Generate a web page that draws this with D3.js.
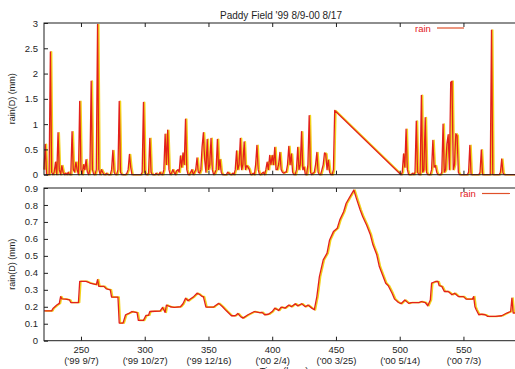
<!DOCTYPE html>
<html>
<head>
<meta charset="utf-8">
<script src="https://cdn.jsdelivr.net/npm/d3@7"></script>
<style>
  html, body { margin: 0; padding: 0; background: #fff; }
  svg { display: block; font-family: "Liberation Sans", Arial, Helvetica, sans-serif; }
</style>
</head>
<body>
<svg id="chart" width="515" height="369"></svg>
<script>
// Daily rainfall, first stretch (day 221 .. 449), mm
const rainStartA = 221;
const rainA = [
  0.1, 0.6, 0, 0, 0, 2.43, 0.05, 0, 0.05, 0.25,
  0, 0.83, 0.1, 0, 0.18, 0.05, 0, 0.03, 0, 0.05,
  0, 0, 0.85, 0.1, 0.05, 0.25, 0.1, 0, 1.45, 0.1,
  0, 0.2, 0.1, 0.3, 0.05, 0, 0.1, 1.85, 0.1, 0,
  0, 0.1, 2.97, 0.1, 0, 0.1, 0.05, 0, 0, 0.03,
  0, 0, 0, 0.1, 0.48, 0.05, 0, 0, 0.1, 1.45,
  0.05, 0, 0, 0, 0, 0.03, 0.1, 0.4, 0.15, 0,
  0, 0, 0, 0, 0, 0, 0, 0.05, 1.43, 0.05,
  0, 0, 0.03, 0.72, 0.05, 0, 0, 0, 0.03, 0,
  0, 0.05, 0, 0, 0.1, 0.8, 0.2, 0.88, 0.1, 0,
  0.03, 0.1, 0.05, 0, 0.08, 0.1, 0.05, 0.37, 0.15, 0.43,
  0.2, 1.1, 0.1, 0, 0, 0.05, 0.1, 0, 0.05, 0.1,
  0.33, 0.05, 0.03, 0.1, 0.55, 0.83, 0.3, 0.05, 0.7, 0.1,
  0.2, 0.72, 0.1, 0, 0.03, 0.1, 0.7, 0.1, 0.3, 0.05,
  0, 0, 0, 0, 0.05, 0.03, 0, 0, 0.03, 0,
  0.1, 0.47, 0.1, 0.2, 0.72, 0.1, 0.2, 0.65, 0.1, 0.18,
  0.15, 0.1, 0, 0, 0.03, 0, 0.2, 0.58, 0.1, 0,
  0, 0.03, 0.05, 0, 0.1, 0.25, 0.1, 0.38, 0.2, 0.38,
  0.2, 0.54, 0.1, 0.1, 0.2, 0.44, 0.1, 0.05, 0.03, 0.05,
  0.05, 0.2, 0.56, 0.2, 0.41, 0.05, 0, 0, 0.1, 0.54,
  0.1, 0.2, 0.85, 0.1, 0.15, 0, 0, 0.2, 1.17, 0.05,
  0, 0.03, 0.05, 0.2, 0.44, 0.05, 0, 0, 0.1, 0.2,
  0.43, 0.41, 0.1, 0.29, 0.05, 0, 0, 0.1, 1.27
];
// Daily rainfall, second stretch (day 501 .. 592), mm
const rainStartB = 501;
const rainB = [
  0, 0.05, 0.41, 0.15, 0.9, 0.1, 0, 0, 0, 0.03,
  0, 0.05, 1.06, 0.05, 0, 0, 1.57, 0.05, 0.1, 1.13,
  0.05, 0, 0, 0, 0.1, 0.68, 0.15, 0.18, 0.05, 0,
  0, 0, 0.05, 1.0, 0.05, 0.1, 0.61, 0.79, 0.1, 1.83,
  1.85, 0.1, 0.2, 0.81, 0.77, 0.05, 0, 0, 0, 0,
  0, 0, 0, 0.05, 0.58, 0, 0, 0, 0, 0,
  0, 0, 0.05, 0.49, 0, 0, 0, 0, 0, 0,
  0, 2.86, 0, 0, 0, 0, 0, 0, 0.05, 0.31,
  0.03, 0, 0, 0, 0, 0, 0, 0, 0, 0,
  0, 0
];

// Smoothed rain(D) series: day and value
const avgDay = [221, 227, 228, 231, 233, 234, 235, 238, 241, 242, 248, 249, 254, 257, 262, 263, 264, 268, 270, 273,
  274, 279, 280, 283, 285, 288, 290, 294, 295, 299, 301, 303, 304, 312, 314, 316, 317, 320, 323, 328,
  330, 332, 334, 336, 338, 341, 343, 345, 346, 348, 354, 355, 358, 361, 364, 368, 371, 373, 375, 377,
  381, 386, 390, 392, 394, 397, 400, 402, 405, 407, 410, 413, 415, 418, 420, 423, 426, 428, 431, 433,
  435, 437, 440, 443, 445, 448, 451, 453, 456, 458, 461, 464, 466, 469, 471, 474, 477, 479, 482, 484,
  487, 489, 491, 494, 496, 499, 501, 504, 507, 509, 515, 517, 520, 522, 524, 525, 528, 530, 531, 533,
  535, 538, 541, 543, 546, 550, 552, 557, 558, 559, 560, 562, 564, 567, 569, 575, 580, 584, 587, 588,
  589, 592];
const avgVal = [0.176, 0.176, 0.19, 0.21, 0.22, 0.26, 0.247, 0.245, 0.24, 0.225, 0.225, 0.35, 0.35, 0.34, 0.33, 0.36, 0.32, 0.32, 0.305, 0.30,
  0.257, 0.257, 0.104, 0.104, 0.153, 0.163, 0.172, 0.165, 0.12, 0.12, 0.149, 0.15, 0.172, 0.175, 0.196, 0.167, 0.21, 0.2, 0.197, 0.2,
  0.218, 0.25, 0.235, 0.247, 0.257, 0.28, 0.272, 0.26, 0.26, 0.198, 0.198, 0.205, 0.22, 0.2, 0.176, 0.147, 0.147, 0.16, 0.143, 0.133,
  0.153, 0.172, 0.165, 0.167, 0.153, 0.156, 0.172, 0.192, 0.178, 0.198, 0.192, 0.21, 0.2, 0.218, 0.205, 0.218, 0.2, 0.21, 0.192, 0.182,
  0.26, 0.378, 0.476, 0.516, 0.594, 0.643, 0.663, 0.712, 0.76, 0.81, 0.849, 0.888, 0.839, 0.77, 0.731, 0.682, 0.624, 0.565, 0.506, 0.437,
  0.378, 0.339, 0.324, 0.28, 0.245, 0.225, 0.218, 0.24, 0.22, 0.225, 0.225, 0.231, 0.225, 0.206, 0.24, 0.339, 0.349, 0.349, 0.324, 0.32,
  0.29, 0.29, 0.271, 0.28, 0.26, 0.26, 0.245, 0.245, 0.26, 0.2, 0.182, 0.153, 0.156, 0.153, 0.143, 0.143, 0.147, 0.163, 0.172, 0.251,
  0.163, 0.165];

// Axis ticks and labels
const xTicks = [250, 300, 350, 400, 450, 500, 550];
const xDates = ["('99 9/7)", "('99 10/27)", "('99 12/16)", "('00 2/4)", "('00 3/25)", "('00 5/14)", "('00 7/3)"];
const yTopTicks = [0, 0.5, 1, 1.5, 2, 2.5, 3];
const yBotTicks = [0, 0.1, 0.2, 0.3, 0.4, 0.5, 0.6, 0.7, 0.8, 0.9];

const titleText = "Paddy Field '99 8/9-00 8/17";
const yLabel = "rain(D) (mm)";
const legendLabel = "rain";
const xLabel = "Time (hour)";

const RED = "#e3201b";
const YELLOW = "#f2d21a";
const INK = "#1e1e1e";

const svg = d3.select("#chart");

const left = 44, right = 517;
const x = d3.scaleLinear().domain([221, 592]).range([left, right]);
const yTop = d3.scaleLinear().domain([0, 3]).range([174.7, 23]);
const yBot = d3.scaleLinear().domain([0, 0.9]).range([340.7, 188]);

// Build point lists from the named arrays
const rainSeries = [
  ...rainA.map((v, i) => ({ d: rainStartA + i, v })),
  ...rainB.map((v, i) => ({ d: rainStartB + i, v }))
];
const avgSeries = avgDay.map((d, i) => ({ d, v: avgVal[i] }));

function panel(y, ticks, fmt, series, legendX, legendY, lineX0, lineX1) {
  const g = svg.append("g");
  const [y0, y1] = y.range();

  // data line: a warm yellow halo shifted right, red stroke on top
  const line = d3.line().x(p => x(p.d)).y(p => y(p.v));
  g.append("path").datum(series)
    .attr("d", line).attr("fill", "none")
    .attr("stroke", YELLOW).attr("stroke-width", 1.6)
    .attr("stroke-linejoin", "round")
    .attr("transform", "translate(1.2,0)");
  g.append("path").datum(series)
    .attr("d", line).attr("fill", "none")
    .attr("stroke", RED).attr("stroke-width", 1.3)
    .attr("stroke-linejoin", "round");

  // frame
  g.append("rect")
    .attr("x", left).attr("y", y1)
    .attr("width", right - left).attr("height", y0 - y1)
    .attr("fill", "none").attr("stroke", INK).attr("stroke-width", 1);

  // left axis with inward ticks
  const ya = g.append("g").attr("transform", `translate(${left},0)`)
    .call(d3.axisLeft(y).tickValues(ticks).tickFormat(fmt).tickSizeInner(-4).tickSizeOuter(0).tickPadding(6));
  ya.select(".domain").remove();
  ya.selectAll("line").attr("stroke", INK);
  ya.selectAll("text").attr("font-size", 9.5).attr("fill", INK);

  // top and bottom mirrored x ticks
  const xt = g.append("g").attr("transform", `translate(0,${y1})`)
    .call(d3.axisBottom(x).tickValues(xTicks).tickFormat("").tickSizeInner(4).tickSizeOuter(0));
  xt.select(".domain").remove();
  xt.selectAll("line").attr("stroke", INK);

  const xb = g.append("g").attr("transform", `translate(0,${y0})`)
    .call(d3.axisBottom(x).tickValues(xTicks).tickSizeInner(-4).tickSizeOuter(0).tickPadding(6));
  xb.select(".domain").remove();
  xb.selectAll("line").attr("stroke", INK);

  // legend
  g.append("text").attr("x", legendX).attr("y", legendY + 3.5)
    .attr("font-size", 9.5).attr("fill", RED).text(legendLabel);
  g.append("line").attr("x1", lineX0).attr("x2", lineX1)
    .attr("y1", legendY).attr("y2", legendY)
    .attr("stroke", "#e0502a").attr("stroke-width", 1.2);

  // y label
  g.append("text")
    .attr("transform", `translate(15,${(y0 + y1) / 2}) rotate(-90)`)
    .attr("text-anchor", "middle").attr("font-size", 9).attr("fill", INK)
    .text(yLabel);

  return xb;
}

const fmt = d3.format("~g");

const xbTop = panel(yTop, yTopTicks, fmt, rainSeries, 415, 28, 437, 464);
xbTop.selectAll("text").remove();

const xbBot = panel(yBot, yBotTicks, fmt, avgSeries, 460, 193.5, 482, 510);
xbBot.selectAll("text")
  .attr("font-size", 9.5).attr("fill", INK)
  .each(function (d, i) {
    const t = d3.select(this);
    t.text(null);
    t.append("tspan").attr("x", 0).text(d);
    t.append("tspan").attr("x", 0).attr("dy", "1.1em").text(xDates[i]);
  });

// x label
svg.append("text")
  .attr("x", (x(400) + x(450)) / 2 - 20).attr("y", 374)
  .attr("text-anchor", "middle").attr("font-size", 9.5).attr("fill", INK)
  .text(xLabel);

// title
svg.append("text")
  .attr("x", 281).attr("y", 18.5)
  .attr("text-anchor", "middle").attr("font-size", 10).attr("fill", INK)
  .text(titleText);
</script>
</body>
</html>
